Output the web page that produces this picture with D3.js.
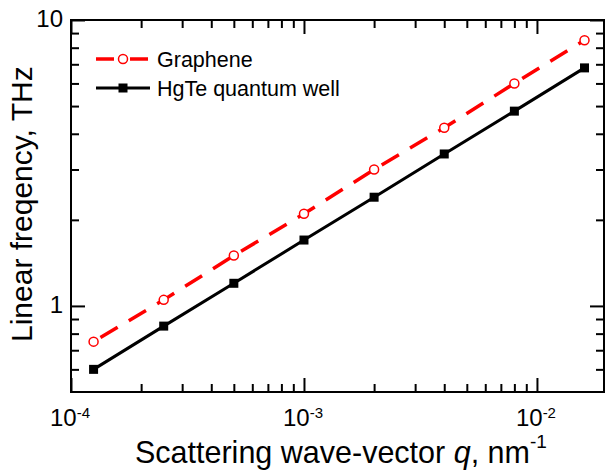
<!DOCTYPE html>
<html>
<head>
<meta charset="utf-8">
<script src="https://cdn.jsdelivr.net/npm/d3@7"></script>
<style>
  body { margin: 0; background: #fff; }
  svg { display: block; font-family: "Liberation Sans", Arial, sans-serif; }
</style>
</head>
<body>
<svg id="drawing_region"></svg>
<script>
// wave-vector q, nm^-1
const q_values = [1.25e-4, 2.5e-4, 5e-4, 1e-3, 2e-3, 4e-3, 8e-3, 1.6e-2];
// linear frequency, THz
const graphene_values = [0.75, 1.05, 1.5, 2.1, 3.0, 4.2, 6.0, 8.5];
const hgte_values = [0.6, 0.85, 1.2, 1.7, 2.4, 3.4, 4.8, 6.8];

const x_major = [1e-4, 1e-3, 1e-2];
const x_major_labels = ["-4", "-3", "-2"];
const y_major = [1, 10];
const y_major_labels = ["1", "10"];

const series_names = ["Graphene", "HgTe quantum well"];

const config = {
    width: 608,
    height: 470,
    margin: {top: 20, right: 4, bottom: 78, left: 71}
};

const svg = d3.select('#drawing_region')
    .attr('width', config.width)
    .attr('height', config.height);

const inner_width = config.width - config.margin.left - config.margin.right;
const inner_height = config.height - config.margin.top - config.margin.bottom;

const chart = svg.append('g')
    .attr('transform', `translate(${config.margin.left}, ${config.margin.top})`);

const xscale = d3.scaleLog()
    .domain([1e-4, 1.94e-2])
    .range([0, inner_width]);

const yscale = d3.scaleLog()
    .domain([0.5, 10])
    .range([inner_height, 0]);

// minor ticks: 2..9 of each decade inside the domain
function minorTicks(scale) {
    const [a, b] = scale.domain();
    const out = [];
    for (let e = Math.floor(Math.log10(a)); e <= Math.ceil(Math.log10(b)); e++) {
        for (let m = 2; m <= 9; m++) {
            const v = m * Math.pow(10, e);
            if (v > a && v < b) out.push(v);
        }
    }
    return out;
}

const x_minor = minorTicks(xscale);
const y_minor = minorTicks(yscale);

// axes with ticks pointing inward, on all four sides
function drawAxis(axisFn, scale, values, size, transform) {
    const g = chart.append('g')
        .attr('transform', transform)
        .call(axisFn(scale).tickValues(values).tickSize(-size).tickFormat('').tickSizeOuter(0));
    g.select('.domain').remove();
    g.selectAll('line').attr('stroke', '#000').attr('stroke-width', 2);
}

drawAxis(d3.axisBottom, xscale, x_major, 14, `translate(0, ${inner_height})`);
drawAxis(d3.axisBottom, xscale, x_minor, 8, `translate(0, ${inner_height})`);
drawAxis(d3.axisTop, xscale, x_major, 14, 'translate(0, 0)');
drawAxis(d3.axisTop, xscale, x_minor, 8, 'translate(0, 0)');
drawAxis(d3.axisLeft, yscale, y_major, 14, 'translate(0, 0)');
drawAxis(d3.axisLeft, yscale, y_minor, 8, 'translate(0, 0)');
drawAxis(d3.axisRight, yscale, y_major, 14, `translate(${inner_width}, 0)`);
drawAxis(d3.axisRight, yscale, y_minor, 8, `translate(${inner_width}, 0)`);

// frame
chart.append('rect')
    .attr('x', 0)
    .attr('y', 0)
    .attr('width', inner_width)
    .attr('height', inner_height)
    .attr('fill', 'none')
    .attr('stroke', '#000')
    .attr('stroke-width', 2);

// tick labels
chart.selectAll('.ylabel')
    .data(y_major)
    .join('text')
    .attr('class', 'ylabel')
    .attr('x', -8)
    .attr('y', d => yscale(d) + 7)
    .attr('text-anchor', 'end')
    .style('font-size', '24px')
    .text((d, i) => y_major_labels[i]);

const xlabels = chart.selectAll('.xlabel')
    .data(x_major)
    .join('text')
    .attr('class', 'xlabel')
    .attr('x', d => xscale(d) - 1)
    .attr('y', inner_height + 34)
    .attr('text-anchor', 'middle')
    .style('font-size', '24px');
xlabels.append('tspan').text('10');
xlabels.append('tspan')
    .attr('dy', -8)
    .style('font-size', '15px')
    .text((d, i) => x_major_labels[i]);

// axis titles
const xtitle = svg.append('text')
    .attr('x', 135)
    .attr('y', 463)
    .style('font-size', '30.5px');
xtitle.append('tspan').text('Scattering wave-vector ');
xtitle.append('tspan').style('font-style', 'italic').text('q');
xtitle.append('tspan').text(', nm');
xtitle.append('tspan').attr('dy', -15).style('font-size', '19px').text('-1');

svg.append('text')
    .attr('transform', 'translate(32, 342) rotate(-90)')
    .style('font-size', '30px')
    .text('Linear freqency, THz');

// lines
const data_g = q_values.map((q, i) => ({q: q, f: graphene_values[i]}));
const data_h = q_values.map((q, i) => ({q: q, f: hgte_values[i]}));

const line = d3.line()
    .x(d => xscale(d.q))
    .y(d => yscale(d.f));

chart.append('path')
    .datum(data_h)
    .attr('d', line)
    .attr('fill', 'none')
    .attr('stroke', '#000')
    .attr('stroke-width', 3);

chart.append('path')
    .datum(data_g)
    .attr('d', line)
    .attr('fill', 'none')
    .attr('stroke', '#ff0000')
    .attr('stroke-width', 3.5)
    .attr('stroke-dasharray', '20,13')
    .attr('stroke-dashoffset', -8);

chart.selectAll('.sq')
    .data(data_h)
    .join('rect')
    .attr('class', 'sq')
    .attr('x', d => xscale(d.q) - 4.5)
    .attr('y', d => yscale(d.f) - 4.5)
    .attr('width', 9)
    .attr('height', 9)
    .attr('fill', '#000');

chart.selectAll('.circ')
    .data(data_g)
    .join('circle')
    .attr('class', 'circ')
    .attr('cx', d => xscale(d.q))
    .attr('cy', d => yscale(d.f))
    .attr('r', 4.5)
    .attr('fill', '#fff')
    .attr('stroke', '#ff0000')
    .attr('stroke-width', 1.5);

// legend
const legend = svg.append('g');
legend.append('line')
    .attr('x1', 96).attr('x2', 148).attr('y1', 59).attr('y2', 59)
    .attr('stroke', '#ff0000').attr('stroke-width', 3.5)
    .attr('stroke-dasharray', '18,16');
legend.append('circle')
    .attr('cx', 123).attr('cy', 59).attr('r', 4.5)
    .attr('fill', '#fff').attr('stroke', '#ff0000').attr('stroke-width', 1.5);
legend.append('line')
    .attr('x1', 96).attr('x2', 150).attr('y1', 88).attr('y2', 88)
    .attr('stroke', '#000').attr('stroke-width', 3);
legend.append('rect')
    .attr('x', 118.5).attr('y', 83.5).attr('width', 9).attr('height', 9)
    .attr('fill', '#000');
legend.selectAll('.ltext')
    .data(series_names)
    .join('text')
    .attr('class', 'ltext')
    .attr('x', 157)
    .attr('y', (d, i) => 67 + i * 29)
    .style('font-size', '21.5px')
    .text(d => d);
</script>
</body>
</html>
